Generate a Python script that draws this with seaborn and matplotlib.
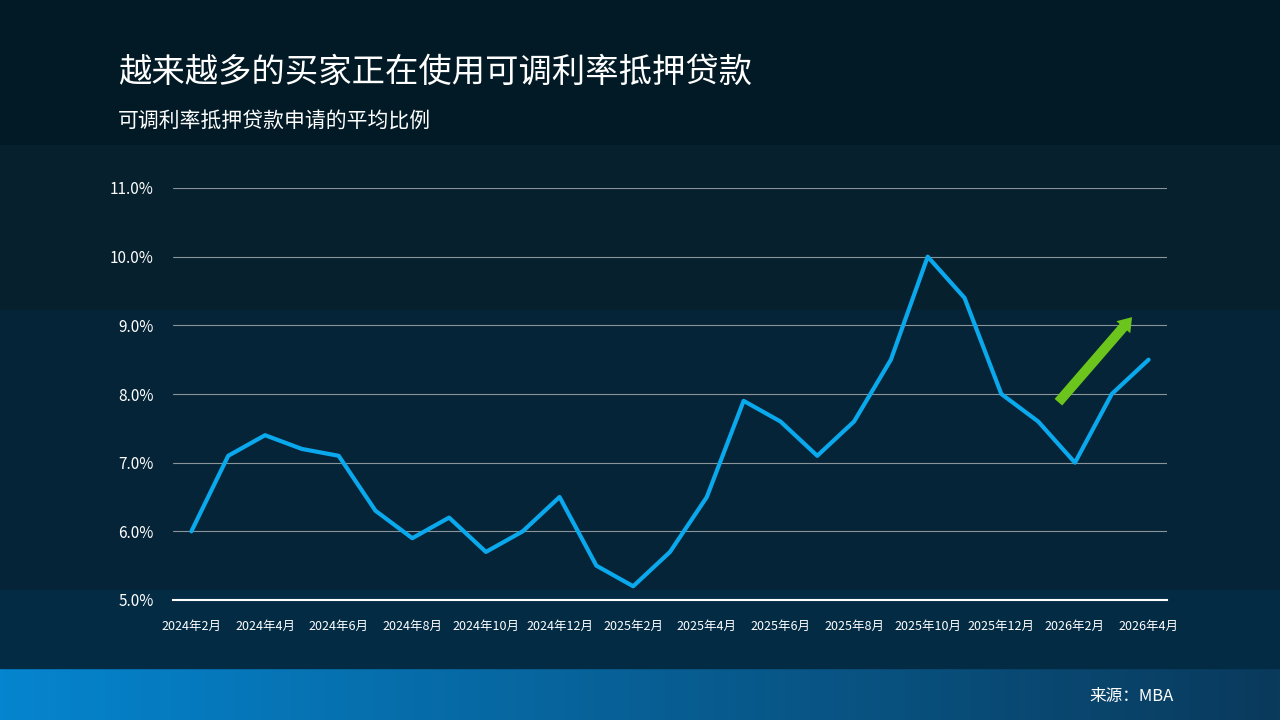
import numpy as np
import pandas as pd
import matplotlib
matplotlib.use("Agg")
import matplotlib.pyplot as plt
import seaborn as sns
from matplotlib.patches import FancyArrow

months = pd.date_range("2024-02-01", "2026-04-01", freq="MS")
arm_share = [6.0, 7.1, 7.4, 7.2, 7.1, 6.3, 5.9, 6.2, 5.7, 6.0, 6.5,
             5.5, 5.2, 5.7, 6.5, 7.9, 7.6, 7.1, 7.6, 8.5, 10.0, 9.4, 8.0,
             7.6, 7.0, 8.0, 8.5]
y_ticks = [5.0, 6.0, 7.0, 8.0, 9.0, 10.0, 11.0]
x_labels = [f"{d.year}年{d.month}月" for d in months]

sns.set_theme(style="dark")
plt.rcParams['font.family'] = ['Noto Sans CJK SC', 'DejaVu Sans']

fig = plt.figure(figsize=(12.8, 7.2), dpi=100)
fig.patch.set_facecolor("#052433")

# background bands
bg = fig.add_axes([0, 0, 1, 1], zorder=-10)
bg.set_xlim(0, 1280); bg.set_ylim(720, 0); bg.axis("off")
bg.add_patch(plt.Rectangle((0, 0), 1280, 145, color="#011a25"))
bg.add_patch(plt.Rectangle((0, 145), 1280, 165, color="#06202e"))
bg.add_patch(plt.Rectangle((0, 310), 1280, 280, color="#062437"))
bg.add_patch(plt.Rectangle((0, 590), 1280, 78, color="#032b44"))
grad = np.linspace(0, 1, 256)[None, :]
bg.imshow(grad, extent=[0, 1280, 720, 668], aspect="auto",
          cmap=matplotlib.colors.LinearSegmentedColormap.from_list("b", ["#0585cf", "#0a3a5c"]))
bg.set_xlim(0, 1280); bg.set_ylim(720, 0)

fig.text(118 / 1280, 1 - 72 / 720, "越来越多的买家正在使用可调利率抵押贷款",
         color="white", fontsize=24, va="center")
fig.text(118 / 1280, 1 - 122 / 720, "可调利率抵押贷款申请的平均比例",
         color="white", fontsize=15, va="center")
fig.text(1174 / 1280, 1 - 697 / 720, "来源：MBA", color="white", fontsize=12,
         ha="right", va="center")

ax = fig.add_axes([173 / 1280, 120 / 720, 994 / 1280, 412 / 720])
ax.set_facecolor("none")
x = np.arange(len(months))
sns.lineplot(x=x, y=arm_share, ax=ax, color="#0aa8ec", linewidth=3)
ax.set_xlim(-0.5, len(months) - 0.5)
ax.set_ylim(5.0, 11.0)
ax.set_yticks(y_ticks)
ax.set_yticklabels([f"{v:.1f}%" for v in y_ticks], color="white", fontsize=11)
ax.set_xticks(x[::2])
ax.set_xticklabels(x_labels[::2], color="white", fontsize=9)
ax.tick_params(axis="x", pad=14, length=0)
ax.tick_params(axis="y", pad=14, length=0)
ax.grid(axis="y", color="#8a9499", linewidth=0.8)
ax.grid(axis="x", visible=False)
for s in ["top", "right", "left"]:
    ax.spines[s].set_visible(False)
ax.spines["bottom"].set_color("white")
ax.spines["bottom"].set_linewidth(1.5)
ax.set_xlabel(""); ax.set_ylabel("")

ax.annotate("", xy=(25.6, 9.15), xytext=(23.5, 7.85),
            arrowprops=dict(arrowstyle="simple,head_width=1.1,head_length=0.8,tail_width=0.6",
                            color="#6cc51c", lw=0), annotation_clip=False)

fig.savefig("out.png", dpi=100, facecolor=fig.get_facecolor())
